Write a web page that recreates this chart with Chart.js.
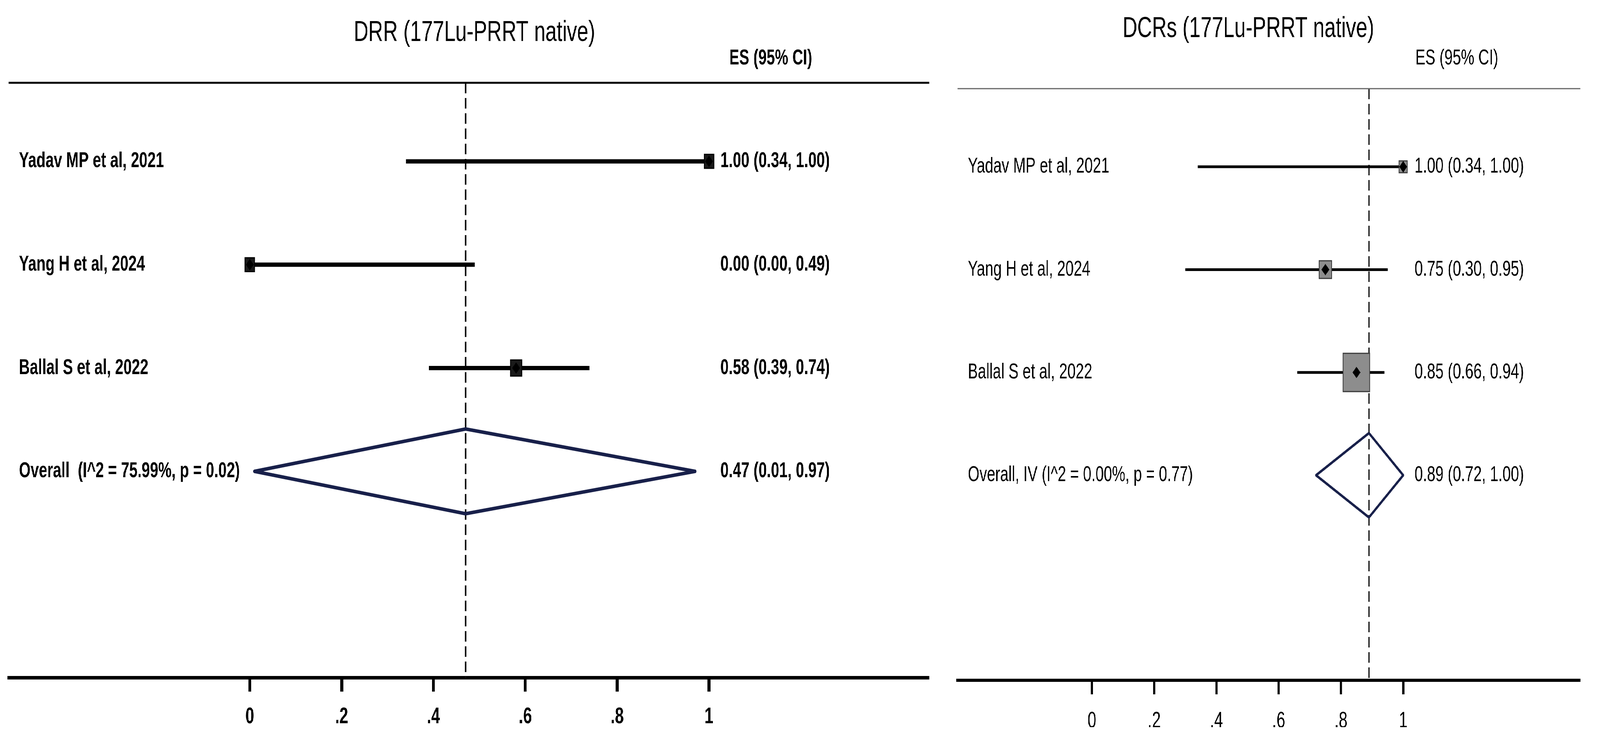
<!DOCTYPE html>
<html lang="en">
<head>
<meta charset="UTF-8">
<title>Forest plots (177Lu-PRRT native)</title>
<script src="https://cdn.jsdelivr.net/npm/chart.js"></script>
<style>
  html, body { margin: 0; padding: 0; background: #fff; overflow: hidden; }
  #wrap { position: relative; width: 5902px; height: 1877px; overflow: hidden; background: #fff; transform-origin: 0 0; }
  canvas { position: absolute; top: 0; }
  #drr { left: 0; }
  #dcr { left: 3460px; }
</style>
</head>
<body>
<div id="wrap">
  <canvas id="drr" width="3460" height="1877"></canvas>
  <canvas id="dcr" width="2442" height="1877"></canvas>
</div>
<script>
// same three studies in both plots
const studies = ['Yadav MP et al, 2021', 'Yang H et al, 2024', 'Ballal S et al, 2022'];
const tickValues = [0, 0.2, 0.4, 0.6, 0.8, 1];
const tickLabels = ['0', '.2', '.4', '.6', '.8', '1'];

// DRR panel
const drrTitle = 'DRR (177Lu-PRRT native)';
const drrEs = [1.00, 0.00, 0.58];
const drrLow = [0.34, 0.00, 0.39];
const drrHigh = [1.00, 0.49, 0.74];
const drrWeight = [30, 30, 40];
const drrOverall = [0.47, 0.01, 0.97];   // es, low, high
const drrOverallLabel = 'Overall  (I^2 = 75.99%, p = 0.02)';

// DCR panel
const dcrTitle = 'DCRs (177Lu-PRRT native)';
const dcrEs = [1.00, 0.75, 0.85];
const dcrLow = [0.34, 0.30, 0.66];
const dcrHigh = [1.00, 0.95, 0.94];
const dcrWeight = [7.2, 16.2, 76.7];
const dcrOverall = [0.89, 0.72, 1.00];
const dcrOverallLabel = 'Overall, IV (I^2 = 0.00%, p = 0.77)';

const FONT = "'Liberation Sans', Arial, Helvetica, sans-serif";
const AXIS_H = 120;
const DIAMOND_H = 0.41;   // half height of pooled diamond, in rows

// the page is laid out at 5902x1877; squeeze it into whatever viewport we get
(function fitPage() {
    const sx = Math.min(1, window.innerWidth / 5902);
    const sy = Math.min(1, window.innerHeight / 1877);
    document.getElementById('wrap').style.transform = 'scale(' + sx + ',' + sy + ')';
})();

function fmt(e, lo, hi) {
    return e.toFixed(2) + ' (' + lo.toFixed(2) + ', ' + hi.toFixed(2) + ')';
}

function makeForest(id, p) {
    const canvas = document.getElementById(id);
    const W = canvas.width, H = canvas.height;
    const unit = p.px1 - p.px0;
    const xMin = (p.area.left - p.px0) / unit;
    const xMax = (p.area.right - p.px0) / unit;
    const weight = p.bold ? 'bold' : 'normal';

    let datasets = [];
    p.es.forEach((v, i) => {
        datasets.push({
            type: 'scatter', showLine: true,
            data: [{ x: p.low[i], y: i + 1 }, { x: p.high[i], y: i + 1 }],
            borderColor: '#000', borderWidth: p.ciWidth, borderCapStyle: 'butt',
            pointRadius: 0, order: 3
        });
    });
    const pts = p.es.map((v, i) => ({ x: v, y: i + 1 }));
    datasets.push({
        type: 'scatter', data: pts, pointStyle: 'rect',
        pointRadius: p.weight.map(w => p.boxScale * Math.sqrt(w) / (2 * Math.SQRT1_2)),
        backgroundColor: p.boxFill, borderColor: p.boxLine, borderWidth: 3, order: 2
    });
    datasets.push({
        type: 'scatter', data: pts, pointStyle: 'rectRot', pointRadius: 14,
        backgroundColor: '#000', borderColor: '#000', borderWidth: 1, order: 1
    });
    const r = p.es.length + 1;
    const [oe, olo, ohi] = p.overall;
    datasets.push({
        type: 'scatter', showLine: true,
        data: [{ x: oe, y: r - DIAMOND_H }, { x: ohi, y: r }, { x: oe, y: r + DIAMOND_H },
               { x: olo, y: r }, { x: oe, y: r - DIAMOND_H }],
        borderColor: '#18204a', borderWidth: p.diamondWidth, borderJoinStyle: 'round',
        pointRadius: 0, fill: false, order: 0
    });

    const texts = {
        id: 'forestText',
        beforeDatasetsDraw(chart) {
            const a = chart.chartArea, x = chart.scales.x.getPixelForValue(p.overall[0]);
            const ctx = chart.ctx;
            ctx.save();
            ctx.strokeStyle = '#111';
            ctx.lineWidth = 5;
            ctx.setLineDash([27, 12]);
            ctx.beginPath();
            ctx.moveTo(x, a.top);
            ctx.lineTo(x, a.bottom);
            ctx.stroke();
            ctx.restore();
        },
        afterDraw(chart) {
            const ctx = chart.ctx, a = chart.chartArea;
            const xs = chart.scales.x, ys = chart.scales.y;
            ctx.save();
            // top rule
            ctx.strokeStyle = p.ruleColor;
            ctx.lineWidth = p.ruleWidth;
            ctx.beginPath();
            ctx.moveTo(a.left, a.top);
            ctx.lineTo(a.right, a.top);
            ctx.stroke();

            ctx.fillStyle = '#000';
            ctx.textBaseline = 'middle';
            ctx.textAlign = 'center';
            ctx.font = 'normal 75px ' + FONT;
            ctx.fillText(p.title, p.titleX, p.titleY);

            ctx.textAlign = 'left';
            ctx.font = weight + ' 55px ' + FONT;
            ctx.fillText('ES (95% CI)', xs.getPixelForValue(1) + p.esOffset, 150);

            const labelX = a.left + 38;
            const valueX = xs.getPixelForValue(1) + 42;
            studies.forEach((s, i) => {
                const y = ys.getPixelForValue(i + 1);
                ctx.fillText(s, labelX, y);
                ctx.fillText(fmt(p.es[i], p.low[i], p.high[i]), valueX, y);
            });
            const yo = ys.getPixelForValue(r);
            ctx.fillText(p.overallLabel, labelX, yo);
            ctx.fillText(fmt(oe, olo, ohi), valueX, yo);
            ctx.restore();
        }
    };

    return new Chart(canvas, {
        data: { datasets: datasets },
        plugins: [texts],
        options: {
            responsive: false,
            animation: false,
            devicePixelRatio: 1,
            layout: {
                padding: {
                    left: p.area.left, right: W - p.area.right,
                    top: p.area.top, bottom: H - p.area.bottom - AXIS_H
                }
            },
            plugins: { legend: { display: false }, tooltip: { enabled: false } },
            scales: {
                x: {
                    type: 'linear', min: xMin, max: xMax,
                    afterBuildTicks: s => { s.ticks = tickValues.map(v => ({ value: v })); },
                    afterFit: s => { s.height = AXIS_H; },
                    ticks: {
                        callback: (v, i) => tickLabels[i],
                        font: { family: FONT, size: 58, weight: weight },
                        color: '#000', padding: p.tickPad, autoSkip: false, maxRotation: 0
                    },
                    grid: { drawOnChartArea: false, tickLength: 36, tickWidth: p.tickWidth, tickColor: '#000' },
                    border: { display: true, width: p.axisWidth, color: '#000' }
                },
                y: { type: 'linear', display: false, reverse: true, min: p.yMin, max: p.yMax }
            }
        }
    });
}

makeForest('drr', {
    title: drrTitle, es: drrEs, low: drrLow, high: drrHigh, weight: drrWeight,
    overall: drrOverall, overallLabel: drrOverallLabel,
    bold: true, boxScale: 6.5, boxFill: '#1a1a1a', boxLine: '#000',
    ciWidth: 11, diamondWidth: 9, axisWidth: 9, tickWidth: 11, tickPad: 30,
    area: { left: 19, right: 3429, top: 212, bottom: 1735 },
    px0: 912, px1: 2613, yMin: 0.24, yMax: 5.995,
    titleX: 1750, titleY: 84, esOffset: 75,
    ruleColor: '#000', ruleWidth: 5
});

makeForest('dcr', {
    title: dcrTitle, es: dcrEs, low: dcrLow, high: dcrHigh, weight: dcrWeight,
    overall: dcrOverall, overallLabel: dcrOverallLabel,
    bold: false, boxScale: 11.2, boxFill: '#8d8d8d', boxLine: '#3c3c3c',
    ciWidth: 7, diamondWidth: 7, axisWidth: 8, tickWidth: 8, tickPad: 34,
    area: { left: 40, right: 2409, top: 227, bottom: 1742 },
    px0: 551, px1: 1735, yMin: 0.24, yMax: 5.994,
    titleX: 1145, titleY: 74, esOffset: 45,
    ruleColor: '#666', ruleWidth: 3
});
</script>
</body>
</html>
